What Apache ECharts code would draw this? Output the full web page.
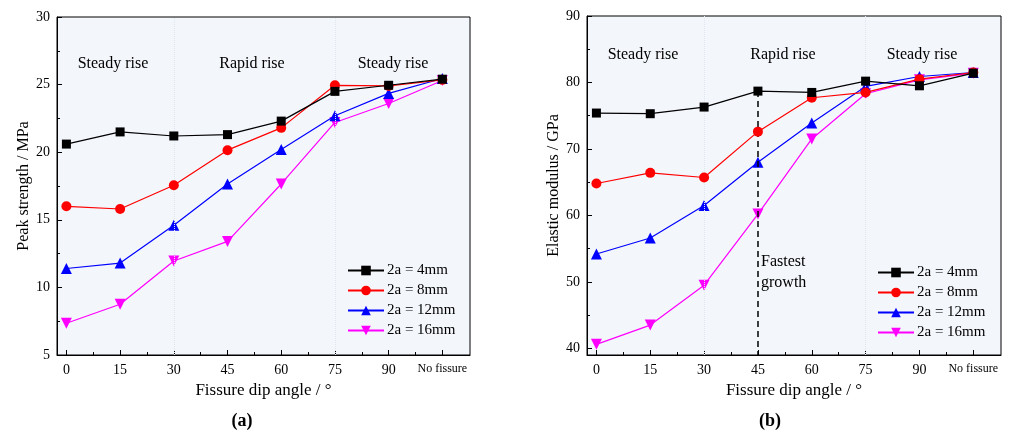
<!DOCTYPE html>
<html><head><meta charset="utf-8">
<script src="https://cdn.jsdelivr.net/npm/echarts@6/dist/echarts.min.js"></script>
<style>html,body{margin:0;padding:0;background:#fff}#c{width:1011px;height:435px}</style>
</head><body><div id="c"></div>
<script>
var xLabels = ['0','15','30','45','60','75','90','No fissure'];
var seriesNames = ['2a = 4mm','2a = 8mm','2a = 12mm','2a = 16mm'];
// (a) Peak strength / MPa
var peak4  = [20.6, 21.5, 21.2, 21.3, 22.3, 24.5, 24.95, 25.4];
var peak8  = [16.0, 15.8, 17.55, 20.15, 21.8, 24.95, 24.9, 25.35];
var peak12 = [11.4, 11.8, 14.6, 17.65, 20.2, 22.7, 24.35, 25.45];
var peak16 = [7.35, 8.75, 11.95, 13.4, 17.65, 22.2, 23.6, 25.3];
// (b) Elastic modulus / GPa
var mod4  = [75.4, 75.3, 76.3, 78.7, 78.5, 80.2, 79.5, 81.4];
var mod8  = [64.8, 66.4, 65.7, 72.6, 77.7, 78.5, 80.5, 81.5];
var mod12 = [54.2, 56.6, 61.5, 68.0, 73.9, 79.4, 80.9, 81.5];
var mod16 = [40.6, 43.5, 49.5, 60.2, 71.5, 78.3, 80.4, 81.4];
var yTicksA = [5,10,15,20,25,30];
var yMinorA = [7.5,12.5,17.5,22.5,27.5];
var yTicksB = [40,50,60,70,80,90];
var yMinorB = [45,55,65,75,85];
var xTicks = [0,1,2,3,4,5,6,7];
var xMinor = [0.5,1.5,2.5,3.5,4.5,5.5,6.5];

var colors = ['#000000','#ff0000','#0000ff','#ff00ff'];
var symbols = ['rect','circle','triangle','path://M0,0 L10,0 L5,9 Z'];
var symbolSizes = [9, 10, 11, 11];
var FONT = '"Liberation Serif", "DejaVu Serif", serif';

function pairs(arr){ return arr.map(function(v,i){ return [i, v]; }); }

function mkX(gi, minor){
  return {
    type:'value', gridIndex:gi, min:-0.175, max:7.515, position:'bottom',
    axisLine:{show:!minor, onZero:false, lineStyle:{color:'#000', width:1}},
    splitLine:{show:false},
    axisTick:{show:true, inside:true, length: minor?3:5, customValues: minor?xMinor:xTicks, lineStyle:{color:'#000'}},
    axisLabel:{show:!minor, customValues:xTicks, margin:8, color:'#000', fontFamily:FONT, fontSize:14,
      formatter:function(v){ var s = xLabels[Math.round(v)]; return s==='No fissure' ? '{s|'+s+'}' : s; },
      rich:{s:{fontSize:12, fontFamily:FONT, color:'#000'}}},
    name: minor ? '' : 'Fissure dip angle / °',
    nameLocation:'middle', nameGap:27,
    nameTextStyle:{color:'#000', fontFamily:FONT, fontSize:17}
  };
}
function mkY(gi, minor, mn, mx, ticks, minors, name){
  return {
    type:'value', gridIndex:gi, min:mn, max:mx, position:'left',
    axisLine:{show:!minor, onZero:false, lineStyle:{color:'#000', width:1}},
    splitLine:{show:false},
    axisTick:{show:true, inside:true, length: minor?3:5, customValues: minor?minors:ticks, lineStyle:{color:'#000'}},
    axisLabel:{show:!minor, customValues:ticks, margin:7, color:'#000', fontFamily:FONT, fontSize:14},
    name: minor ? '' : name,
    nameLocation:'middle', nameGap:25,
    nameTextStyle:{color:'#000', fontFamily:FONT, fontSize:16}
  };
}

var dataA = [peak4, peak8, peak12, peak16];
var dataB = [mod4, mod8, mod12, mod16];
var series = [];
function addSeries(dataSet, gi){
  dataSet.forEach(function(d, k){
    var s = {
      type:'line', name:seriesNames[k], xAxisIndex:gi*2, yAxisIndex:gi*2,
      data:pairs(d), symbol:symbols[k], symbolSize: symbolSizes[k],
      lineStyle:{color:colors[k], width:1.2}, itemStyle:{color:colors[k]},
      animation:false, z: 3 + (3-k)
    };
    if (k===0) {
      s.markLine = {
        silent:true, symbol:'none', label:{show:false}, animation:false,
        lineStyle:{color:'#e0e6ef', width:1, type:'dotted'},
        data:[ [{coord:[2, gi===0?5:39]},{coord:[2, gi===0?30:90]}],
               [{coord:[5, gi===0?5:39]},{coord:[5, gi===0?30:90]}] ]
      };
      if (gi===1) {
        s.markLine.data.push([{coord:[3, mod4[3]], lineStyle:{color:'#000', width:1.5, type:[6,4]}},
                              {coord:[3, 39]}]);
      }
    }
    series.push(s);
  });
}
addSeries(dataA, 0);
addSeries(dataB, 1);

var option = {
  animation:false,
  backgroundColor:'#ffffff',
  grid:[
    {left:57, top:17, width:413, height:338, show:true, backgroundColor:'#f3f6fb', borderColor:'#000', borderWidth:1},
    {left:587, top:16, width:414, height:339, show:true, backgroundColor:'#f3f6fb', borderColor:'#000', borderWidth:1}
  ],
  xAxis:[ mkX(0,false), mkX(0,true), mkX(1,false), mkX(1,true) ],
  yAxis:[ mkY(0,false,5,30,yTicksA,yMinorA,'Peak strength / MPa'), mkY(0,true,5,30,yTicksA,yMinorA,''),
          mkY(1,false,39,90,yTicksB,yMinorB,'Elastic modulus / GPa'), mkY(1,true,39,90,yTicksB,yMinorB,'') ],
  legend:[
    {data:seriesNames, orient:'vertical', left:347, top:263, itemWidth:36, itemHeight:12, itemGap:5,
     textStyle:{fontFamily:FONT, fontSize:15, color:'#000', padding:[0,0,0,-2]}, backgroundColor:'transparent', padding:0},
    {data:seriesNames, orient:'vertical', left:877, top:265, itemWidth:36, itemHeight:12, itemGap:5,
     textStyle:{fontFamily:FONT, fontSize:15, color:'#000', padding:[0,0,0,-2]}, backgroundColor:'transparent', padding:0}
  ],
  graphic:[
    {type:'text', x:113, y:64, style:{text:'Steady rise', fill:'#000', font:'16px '+FONT, align:'center', verticalAlign:'middle'}},
    {type:'text', x:252, y:64, style:{text:'Rapid rise', fill:'#000', font:'16px '+FONT, align:'center', verticalAlign:'middle'}},
    {type:'text', x:393, y:64, style:{text:'Steady rise', fill:'#000', font:'16px '+FONT, align:'center', verticalAlign:'middle'}},
    {type:'text', x:643, y:55, style:{text:'Steady rise', fill:'#000', font:'16px '+FONT, align:'center', verticalAlign:'middle'}},
    {type:'text', x:783, y:55, style:{text:'Rapid rise', fill:'#000', font:'16px '+FONT, align:'center', verticalAlign:'middle'}},
    {type:'text', x:922, y:55, style:{text:'Steady rise', fill:'#000', font:'16px '+FONT, align:'center', verticalAlign:'middle'}},
    {type:'text', x:761, y:262, style:{text:'Fastest', fill:'#000', font:'16px '+FONT, align:'left', verticalAlign:'middle'}},
    {type:'text', x:761, y:283, style:{text:'growth', fill:'#000', font:'16px '+FONT, align:'left', verticalAlign:'middle'}},
    {type:'text', x:242, y:421, style:{text:'(a)', fill:'#000', font:'bold 18px '+FONT, align:'center', verticalAlign:'middle'}},
    {type:'text', x:770, y:421, style:{text:'(b)', fill:'#000', font:'bold 18px '+FONT, align:'center', verticalAlign:'middle'}}
  ],
  series:series
};
var chart = echarts.init(document.getElementById('c'), null, {renderer:'canvas'});
chart.setOption(option);
</script></body></html>
